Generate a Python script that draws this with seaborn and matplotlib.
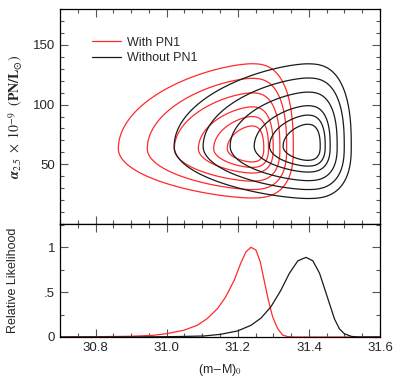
import numpy as np
import pandas as pd
import matplotlib
matplotlib.use('Agg')
import matplotlib.pyplot as plt
import seaborn as sns
from matplotlib.ticker import MultipleLocator, FixedFormatter, FixedLocator

# ---- values ----
# relative likelihood contour levels (same for both fits)
contour_levels = [0.23, 0.365, 0.53, 0.70, 0.81, 0.90]

# surface shape: peak (m-M)0, peak alpha, left/right widths in (m-M)0, up/down widths in alpha
red_peak = [31.237, 63.0]
red_widths = [0.29, 0.100, 58.7, 34.0]
black_peak = [31.394, 65.0]
black_widths = [0.29, 0.105, 57.0, 36.0]

# marginal likelihood curves (bottom panel)
red_x = [30.70, 30.80, 30.90, 30.96, 31.00, 31.048, 31.086, 31.114, 31.143, 31.166, 31.19,
         31.208, 31.223, 31.237, 31.251, 31.263, 31.274, 31.286, 31.298, 31.312, 31.326,
         31.34, 31.36, 31.60]
red_y = [0.0, 0.003, 0.008, 0.018, 0.037, 0.075, 0.13, 0.205, 0.317, 0.447, 0.634,
         0.82, 0.95, 1.0, 0.97, 0.84, 0.634, 0.41, 0.224, 0.094, 0.022,
         0.004, 0.0, 0.0]
black_x = [30.70, 30.90, 31.02, 31.105, 31.152, 31.199, 31.237, 31.265, 31.293, 31.321,
           31.345, 31.369, 31.392, 31.411, 31.43, 31.444, 31.458, 31.472, 31.486, 31.50,
           31.52, 31.54, 31.60]
black_y = [0.0, 0.001, 0.004, 0.011, 0.03, 0.067, 0.13, 0.21, 0.336, 0.52,
           0.71, 0.85, 0.888, 0.85, 0.71, 0.54, 0.37, 0.20, 0.09, 0.035,
           0.006, 0.0, 0.0]

RED = '#ff2a2a'
BLACK = '#1a1a1a'


def surface(X, Y, peak, widths):
    """Relative likelihood surface with a long left tail and a steep right side."""
    x0, y0 = peak
    left, right, up, down = widths
    dx = X - x0
    dy = Y - y0
    a = np.where(dx < 0, (np.abs(dx) / left) ** 1.53, (np.abs(dx) / right) ** 2.2)
    b = np.where(dy > 0, (dy / up) ** 2, (dy / down) ** 2)
    q = np.where(dx < 0, 1.0, 1.25)
    return np.exp(-(a ** q + b ** q) ** (1 / q))


sns.set_style('ticks')
plt.rcParams['font.family'] = ['Liberation Sans', 'DejaVu Sans']
plt.rcParams['mathtext.fontset'] = 'stix'

fig = plt.figure(figsize=(3.93, 3.80), dpi=100)
ax1 = fig.add_axes([0.1527, 0.4105, 0.8143, 0.5658])
ax2 = fig.add_axes([0.1527, 0.1132, 0.8143, 0.2973], sharex=ax1)

gx = np.linspace(30.7, 31.6, 700)
gy = np.linspace(0, 180, 700)
X, Y = np.meshgrid(gx, gy)
ax1.contour(X, Y, surface(X, Y, red_peak, red_widths), levels=contour_levels,
            colors=RED, linewidths=0.9)
ax1.contour(X, Y, surface(X, Y, black_peak, black_widths), levels=contour_levels,
            colors=BLACK, linewidths=0.9)
ax1.plot([], [], color=RED, lw=0.9, label='With PN1')
ax1.plot([], [], color=BLACK, lw=0.9, label='Without PN1')
ax1.legend(loc='upper left', bbox_to_anchor=(0.085, 0.895), frameon=False, fontsize=9,
           handlelength=2.3, handletextpad=0.5, labelspacing=0.3, borderaxespad=0)

df = pd.concat([
    pd.DataFrame({'m': red_x, 'L': red_y, 'fit': 'With PN1'}),
    pd.DataFrame({'m': black_x, 'L': black_y, 'fit': 'Without PN1'}),
])
sns.lineplot(data=df, x='m', y='L', hue='fit', palette=[RED, BLACK], ax=ax2,
             legend=False, linewidth=0.9, sort=False, estimator=None)

ax1.set_xlim(30.7, 31.6)
ax1.set_ylim(0, 180)
ax2.set_ylim(0, 1.26)

ax1.yaxis.set_major_locator(FixedLocator([50, 100, 150]))
ax1.yaxis.set_minor_locator(MultipleLocator(10))
ax2.yaxis.set_major_locator(FixedLocator([0, 0.5, 1]))
ax2.yaxis.set_major_formatter(FixedFormatter(['0', '.5', '1']))
ax2.yaxis.set_minor_locator(MultipleLocator(0.25))
ax2.xaxis.set_major_locator(FixedLocator([30.8, 31.0, 31.2, 31.4, 31.6]))
ax2.xaxis.set_major_formatter(FixedFormatter(['30.8', '31.0', '31.2', '31.4', '31.6']))
ax2.xaxis.set_minor_locator(MultipleLocator(0.05))

for ax in (ax1, ax2):
    ax.tick_params(which='both', direction='in', top=True, right=True,
                   labelsize=9.5, color='#555555', width=0.8)
    ax.tick_params(which='major', length=6)
    ax.tick_params(which='minor', length=3.2)
    for s in ax.spines.values():
        s.set_linewidth(0.9)
        s.set_color('black')
ax1.tick_params(labelbottom=False)

ax1.set_xlabel('')
ax1.set_ylabel(r'$\boldsymbol{\alpha}_{2.5}\ \times\ 10^{-9}\ \ (\mathbf{PN/L_{\odot}})$',
               fontsize=10, labelpad=6)
ax2.set_ylabel('Relative Likelihood', fontsize=9, labelpad=18)
ax2.set_xlabel(r'(m$-$M)$_0$', fontsize=9, labelpad=6)

fig.savefig('out.png', dpi=100)
